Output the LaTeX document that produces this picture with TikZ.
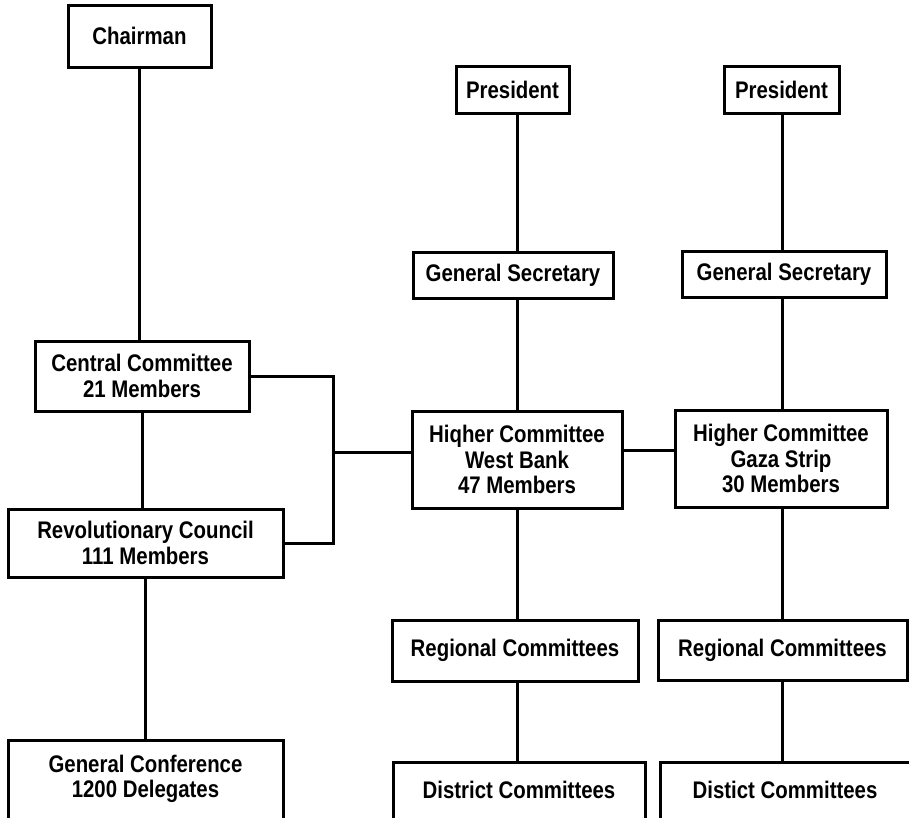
\documentclass[tikz,border=0pt]{standalone}
\usepackage{fontspec}
\newfontfamily\boxfont[FakeStretch=0.85]{Liberation Sans}
\begin{document}
\begin{tikzpicture}[x=1pt,y=-1pt,
  box/.style={draw=black, line width=3pt, fill=white, inner sep=0pt,
    align=center, font=\boxfont\bfseries\fontsize{24}{25.5}\selectfont},
  link/.style={draw=black, line width=3pt}]
\path[use as bounding box, clip] (0,0) rectangle (909,817);
\fill[white] (0,0) rectangle (909,817);
% left column
\node[box, minimum width=143pt, minimum height=62pt] (chair) at (139.5,36) {Chairman};
\node[box, minimum width=214pt, minimum height=70pt] (cc) at (142,376) {Central Committee\\21 Members};
\node[box, minimum width=275pt, minimum height=68pt] (rc) at (145.5,543) {Revolutionary Council\\111 Members};
\node[box, minimum width=275pt, minimum height=100pt] (gc) at (145.5,790) {};
\node[box, draw=none, fill=none] (gct) at (145.5,779) {General Conference\\1200 Delegates};
% West Bank column
\coordinate (colW) at (517,0);
\coordinate (colG) at (782,0);
\node[box, minimum width=113pt, minimum height=47pt] (presW) at (512.5,89.5) {President};
\node[box, minimum width=200pt, minimum height=46pt] (gsW) at (513,275) {General Secretary};
\node[box, minimum width=210pt, minimum height=97pt] (hcW) at (517,459.5) {Hiqher Committee\\West Bank\\47 Members};
\node[box, minimum width=246pt, minimum height=61pt] (rgW) at (515,650.5) {Regional Committees};
\node[box, minimum width=252pt, minimum height=100pt] (dW) at (519,812) {};
\node[box, draw=none, fill=none] (dWt) at (519,790) {District Committees};
% Gaza column
\node[box, minimum width=115pt, minimum height=47pt] (presG) at (781.5,89.5) {President};
\node[box, minimum width=204pt, minimum height=46pt] (gsG) at (784,274) {General Secretary};
\node[box, minimum width=212pt, minimum height=97pt] (hcG) at (781,458.5) {Higher Committee\\Gaza Strip\\30 Members};
\node[box, minimum width=249pt, minimum height=60pt] (rgG) at (782.5,650) {Regional Committees};
\node[box, minimum width=250pt, minimum height=100pt] (dG) at (785,812) {};
\node[box, draw=none, fill=none] (dGt) at (785,790) {Distict Committees};
% left connectors
\draw[link] (chair.south) -- (chair.south |- cc.north);
\draw[link] (cc.south) -- (cc.south |- rc.north);
\draw[link] (rc.south) -- (rc.south |- gc.north);
\coordinate (br) at (333,452);
\draw[link] (cc.east) -| (br) |- (rc.east);
\draw[link] (br) -- (br -| hcW.west);
\draw[link] ([yshift=9pt]hcW.east) -- ([yshift=9pt]hcW.east -| hcG.west);
% West Bank connectors
\draw[link] (presW.south -| colW) -- (gsW.north -| colW);
\draw[link] (gsW.south -| colW) -- (hcW.north -| colW);
\draw[link] (hcW.south -| colW) -- (rgW.north -| colW);
\draw[link] (rgW.south -| colW) -- (dW.north -| colW);
% Gaza connectors
\draw[link] (presG.south -| colG) -- (gsG.north -| colG);
\draw[link] (gsG.south -| colG) -- (hcG.north -| colG);
\draw[link] (hcG.south -| colG) -- (rgG.north -| colG);
\draw[link] (rgG.south -| colG) -- (dG.north -| colG);
\end{tikzpicture}
\end{document}
